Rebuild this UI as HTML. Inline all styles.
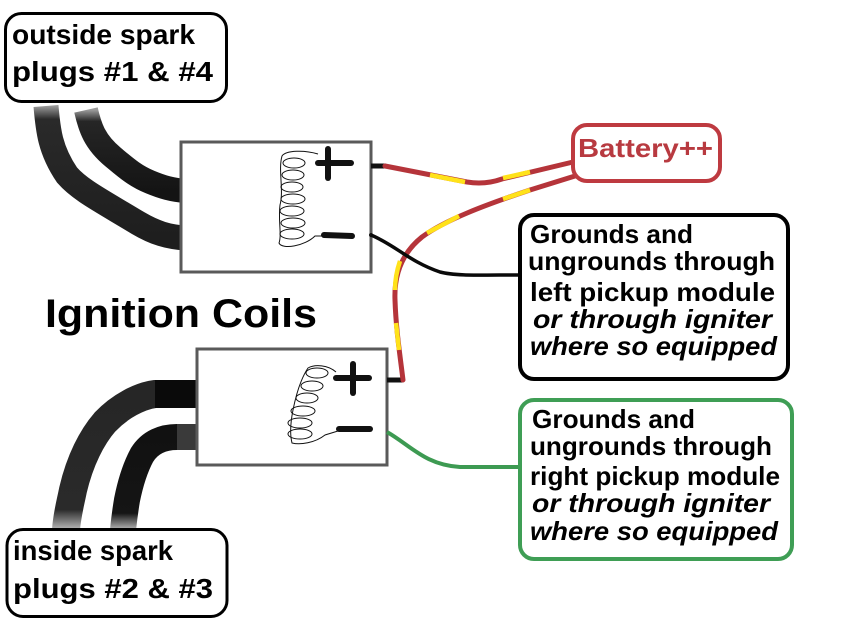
<!DOCTYPE html>
<html>
<head>
<meta charset="utf-8">
<style>
  html,body{margin:0;padding:0;background:#fff;}
  svg{display:block;}
  text{font-family:"Liberation Sans",sans-serif;font-weight:bold;}
</style>
</head>
<body>
<svg width="853" height="628" viewBox="0 0 853 628" xmlns="http://www.w3.org/2000/svg">
  <defs>
    <linearGradient id="fadeTop1" x1="0" y1="0" x2="0" y2="1">
      <stop offset="0" stop-color="#9a9a9a"/>
      <stop offset="0.1" stop-color="#2a2a2a"/>
      <stop offset="1" stop-color="#1e1e1e"/>
    </linearGradient>
    <linearGradient id="fadeTop2" x1="0" y1="0" x2="0" y2="1">
      <stop offset="0" stop-color="#9a9a9a"/>
      <stop offset="0.14" stop-color="#262626"/>
      <stop offset="1" stop-color="#141414"/>
    </linearGradient>
    <linearGradient id="fadeBot1" x1="0" y1="0" x2="0" y2="1">
      <stop offset="0" stop-color="#262626"/>
      <stop offset="0.85" stop-color="#2a2a2a"/>
      <stop offset="1" stop-color="#bbbbbb"/>
    </linearGradient>
    <linearGradient id="fadeBot2" x1="0" y1="0" x2="0" y2="1">
      <stop offset="0" stop-color="#111"/>
      <stop offset="0.82" stop-color="#151515"/>
      <stop offset="1" stop-color="#bbbbbb"/>
    </linearGradient>
  </defs>
  <rect width="853" height="628" fill="#fff"/>

  <!-- Top spark plug wires -->
  <path d="M46,106 C48,130 50,150 67,175 C80,190 100,200 138,223 C155,233 168,237 186,238" fill="none" stroke="url(#fadeTop1)" stroke-width="25"/>
  <path d="M86,110 C90,128 95,142 113,157 C125,167 135,176 150,182 C162,187 172,190 186,191" fill="none" stroke="url(#fadeTop2)" stroke-width="24"/>

  <!-- Top coil box -->
  <rect x="181" y="142" width="190" height="130" fill="#fff" stroke="#5a5a5a" stroke-width="3"/>
  <line x1="318" y1="163" x2="351" y2="163" stroke="#111" stroke-width="6" stroke-linecap="round"/>
  <line x1="328" y1="149" x2="328" y2="178" stroke="#111" stroke-width="6" stroke-linecap="round"/>
  <line x1="324" y1="235" x2="352" y2="236" stroke="#111" stroke-width="6" stroke-linecap="round"/>
  <g fill="none" stroke="#111" stroke-width="1">
    <path d="M318,154 C305,150 286,150 282,156 C278,170 284,190 280,205 C278,220 282,235 279,243 C282,250 305,246 315,236 L322,236"/>
    <ellipse cx="294" cy="163" rx="11" ry="5"/>
    <ellipse cx="293" cy="175" rx="11" ry="5"/>
    <ellipse cx="292" cy="187" rx="11" ry="5"/>
    <ellipse cx="293" cy="199" rx="12" ry="5"/>
    <ellipse cx="292" cy="211" rx="12" ry="5"/>
    <ellipse cx="293" cy="223" rx="12" ry="5"/>
    <ellipse cx="292" cy="234" rx="12" ry="5"/>
  </g>
  <line x1="371" y1="166" x2="386" y2="166" stroke="#111" stroke-width="5"/>
  <circle cx="371" cy="235" r="2" fill="#111"/>

  <!-- Bottom spark plug wires -->
  <path d="M196,394 L155,394 C140,396 120,406 105,422 C92,437 80,460 73,490 C70,505 67,515 66,530" fill="none" stroke="url(#fadeBot1)" stroke-width="28"/>
  <rect x="155" y="380" width="42" height="28" fill="#0a0a0a"/>
  <path d="M196,437 L177,437 C163,437 150,442 142,455 C135,468 130,485 127,500 C125,512 124,520 123,530" fill="none" stroke="url(#fadeBot2)" stroke-width="26"/>
  <rect x="177" y="424" width="20" height="26" fill="#3a3a3a"/>

  <!-- Bottom coil box -->
  <rect x="197" y="349" width="190" height="116" fill="#fff" stroke="#5a5a5a" stroke-width="3"/>
  <line x1="336" y1="378" x2="369" y2="378" stroke="#111" stroke-width="6" stroke-linecap="round"/>
  <line x1="353" y1="364" x2="353" y2="393" stroke="#111" stroke-width="6" stroke-linecap="round"/>
  <line x1="339" y1="429" x2="370" y2="429" stroke="#111" stroke-width="6" stroke-linecap="round"/>
  <g fill="none" stroke="#111" stroke-width="1">
    <path d="M336,372 C328,365 315,364 308,368 C300,380 296,395 293,410 C290,425 290,435 292,443 C300,445 315,443 325,435 L338,431"/>
    <ellipse cx="317" cy="373" rx="11" ry="5"/>
    <ellipse cx="312" cy="386" rx="11" ry="5"/>
    <ellipse cx="307" cy="398" rx="11" ry="5"/>
    <ellipse cx="303" cy="411" rx="12" ry="5"/>
    <ellipse cx="300" cy="423" rx="12" ry="5"/>
    <ellipse cx="300" cy="434" rx="12" ry="5"/>
  </g>
  <line x1="387" y1="380" x2="403" y2="380" stroke="#111" stroke-width="5"/>

  <!-- Red/yellow battery wires -->
  <path d="M385,166 L467,182 Q485,185 502,179 L573,162" fill="none" stroke="#b5343a" stroke-width="5" stroke-linecap="round"/>
  <path d="M575,176 L530,190 C485,205 445,220 422,237 C402,253 394,275 395,300 C396,330 400,355 403,380" fill="none" stroke="#b5343a" stroke-width="5" stroke-linecap="round"/>
  <g stroke="#ffe21a" stroke-width="4.5" stroke-linecap="butt" fill="none">
    <line x1="430" y1="175" x2="465" y2="182"/>
    <line x1="503" y1="178" x2="530" y2="172"/>
    <line x1="503" y1="199" x2="530" y2="190"/>
    <line x1="427" y1="233" x2="459" y2="216"/>
    <path d="M400,261 C397,270 395,280 395,290"/>
    <line x1="396" y1="323" x2="399" y2="350"/>
  </g>

  <!-- Black ground wire -->
  <path d="M371,235 C395,245 410,262 440,272 C455,276 480,275 519,275" fill="none" stroke="#0a0a0a" stroke-width="3.5"/>
  <!-- Green ground wire -->
  <path d="M387,432 C410,445 425,465 460,467 L520,467" fill="none" stroke="#3d9a52" stroke-width="4"/>

  <!-- Battery box -->
  <rect x="573" y="125" width="147" height="56" rx="14" fill="#fff" stroke="#be3a40" stroke-width="4"/>
  <text x="578" y="157" font-size="26" fill="#b83a40" textLength="135" lengthAdjust="spacingAndGlyphs">Battery++</text>

  <!-- Left pickup box -->
  <rect x="520" y="215" width="268" height="164" rx="14" fill="#fff" stroke="#000" stroke-width="4"/>
  <g font-size="26" fill="#000">
    <text x="530" y="243" textLength="163" lengthAdjust="spacingAndGlyphs">Grounds and</text>
    <text x="528" y="270" textLength="247" lengthAdjust="spacingAndGlyphs">ungrounds through</text>
    <text x="530" y="301" textLength="245" lengthAdjust="spacingAndGlyphs">left pickup module</text>
    <text x="533" y="328" font-style="italic" textLength="239" lengthAdjust="spacingAndGlyphs">or through igniter</text>
    <text x="530" y="355" font-style="italic" textLength="247" lengthAdjust="spacingAndGlyphs">where so equipped</text>
  </g>

  <!-- Right pickup box -->
  <rect x="520" y="400" width="272" height="159" rx="14" fill="#fff" stroke="#3f9e55" stroke-width="4"/>
  <g font-size="26" fill="#000">
    <text x="532" y="428" textLength="163" lengthAdjust="spacingAndGlyphs">Grounds and</text>
    <text x="530" y="455" textLength="242" lengthAdjust="spacingAndGlyphs">ungrounds through</text>
    <text x="530" y="485" textLength="250" lengthAdjust="spacingAndGlyphs">right pickup module</text>
    <text x="532" y="512" font-style="italic" textLength="238" lengthAdjust="spacingAndGlyphs">or through igniter</text>
    <text x="530" y="540" font-style="italic" textLength="248" lengthAdjust="spacingAndGlyphs">where so equipped</text>
  </g>

  <!-- Top-left label -->
  <rect x="5.5" y="13.5" width="221" height="88" rx="16" fill="#fff" stroke="#000" stroke-width="3"/>
  <text x="12" y="44" font-size="28" fill="#000" textLength="183" lengthAdjust="spacingAndGlyphs">outside spark</text>
  <text x="12" y="81" font-size="28" fill="#000" textLength="201" lengthAdjust="spacingAndGlyphs">plugs #1 &amp; #4</text>

  <!-- Bottom-left label -->
  <rect x="7" y="529.5" width="220" height="87" rx="16" fill="#fff" stroke="#000" stroke-width="3"/>
  <text x="13" y="560" font-size="28" fill="#000" textLength="160" lengthAdjust="spacingAndGlyphs">inside spark</text>
  <text x="13" y="598" font-size="28" fill="#000" textLength="200" lengthAdjust="spacingAndGlyphs">plugs #2 &amp; #3</text>

  <!-- Title -->
  <text x="45" y="327" font-size="40" fill="#000" textLength="272" lengthAdjust="spacingAndGlyphs">Ignition Coils</text>
</svg>
</body>
</html>
